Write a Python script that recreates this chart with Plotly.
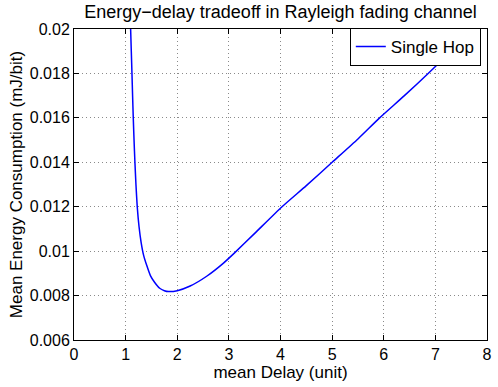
import plotly.graph_objects as go

# Data
mean_delay = [1.097, 1.110, 1.123, 1.135, 1.148, 1.163, 1.180, 1.200, 1.225, 1.26,
              1.30, 1.35, 1.41, 1.48, 1.56, 1.66, 1.75, 1.83, 2.00, 2.25,
              2.57, 2.89, 3.10, 3.50, 4.03, 4.50, 5.00, 5.50, 5.92, 6.40,
              6.86, 7.30, 7.71]
mean_energy = [0.0200, 0.0190, 0.0180, 0.0170, 0.0160, 0.0150, 0.0140, 0.0130, 0.0120, 0.0111,
               0.0104, 0.0098, 0.00935, 0.0089, 0.0086, 0.00833, 0.00822, 0.00818, 0.00822, 0.00843,
               0.00887, 0.00945, 0.00990, 0.01080, 0.01200, 0.01295, 0.01400, 0.01505, 0.01600, 0.01700,
               0.01800, 0.01900, 0.02000]

x_ticks = [0, 1, 2, 3, 4, 5, 6, 7, 8]
y_ticks = [0.006, 0.008, 0.01, 0.012, 0.014, 0.016, 0.018, 0.02]
y_tick_labels = ["0.006", "0.008", "0.01", "0.012", "0.014", "0.016", "0.018", "0.02"]

FONT = "Liberation Sans, Arial, Helvetica, sans-serif"

fig = go.Figure()
fig.add_trace(go.Scatter(
    x=mean_delay, y=mean_energy, mode="lines", name="Single Hop",
    line=dict(color="#0000ff", width=1.5, shape="spline", smoothing=0.6),
))

axis_common = dict(
    showline=True, linecolor="black", linewidth=1, mirror="ticks",
    ticks="inside", ticklen=5, tickcolor="black",
    showgrid=True, gridcolor="#8a8a8a", griddash="1px,3px", gridwidth=1,
    zeroline=False, automargin=False,
    tickfont=dict(family=FONT, size=16, color="black"),
)

fig.update_layout(
    width=498, height=387,
    margin=dict(l=74, r=11, t=29, b=47),
    paper_bgcolor="white", plot_bgcolor="white",
    font=dict(family=FONT, color="black"),
    title=dict(text="Energy\u2212delay tradeoff in Rayleigh fading channel",
               x=0.5, xref="paper", xanchor="center",
               y=1 - 12 / 387, yref="container", yanchor="middle",
               font=dict(family=FONT, size=18, color="black")),
    xaxis=dict(range=[0, 8], tickvals=x_ticks,
               title=dict(text="mean Delay (unit)", font=dict(family=FONT, size=17), standoff=2),
               **axis_common),
    yaxis=dict(range=[0.006, 0.02], tickvals=y_ticks, ticktext=y_tick_labels,
               title=dict(text="Mean Energy Consumption (mJ/bit)", font=dict(family=FONT, size=17), standoff=2),
               **axis_common),
    showlegend=True,
    legend=dict(x=0.985, y=1.003, xanchor="right", yanchor="top",
                bgcolor="white", bordercolor="black", borderwidth=1,
                font=dict(family=FONT, size=17, color="black"),
                tracegroupgap=0, itemwidth=30),
)

fig.write_html("out.html", config={"displayModeBar": False},
               post_script="document.body.style.margin='0';document.body.style.overflow='hidden';")
